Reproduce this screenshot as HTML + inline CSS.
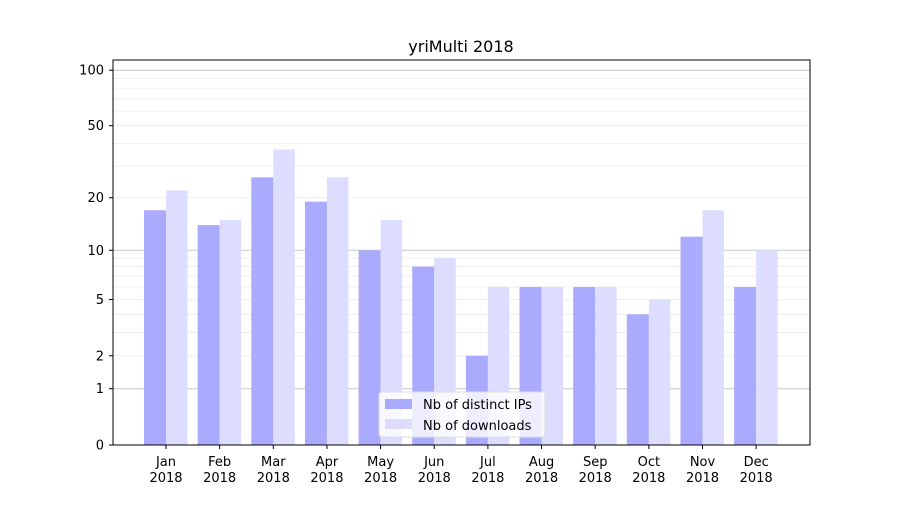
<!DOCTYPE html>
<html><head><meta charset="utf-8"><style>
html,body{margin:0;padding:0;background:#fff;}
svg text{font-family:"DejaVu Sans","Liberation Sans",sans-serif;}
</style></head><body>
<svg id="s" width="900" height="500" xmlns="http://www.w3.org/2000/svg"></svg>
<script>
var s=document.getElementById('s');
function Y(v){return 445-187*Math.log10(1+v);}
var h='<rect width="900" height="500" fill="#fff"/>';
var minor=[2,3,4,5,6,7,8,9,20,30,40,50,60,70,80,90];
minor.forEach(function(v){h+='<line x1="113" x2="810" y1="'+Y(v)+'" y2="'+Y(v)+'" stroke="#ececec" stroke-width="0.8"/>';});
[1,10,100].forEach(function(v){h+='<line x1="113" x2="810" y1="'+Y(v)+'" y2="'+Y(v)+'" stroke="#c8c8c8" stroke-width="1"/>';});
var m=['Jan','Feb','Mar','Apr','May','Jun','Jul','Aug','Sep','Oct','Nov','Dec'];
var a=[17,14,26,19,10,8,2,6,6,4,12,6], b=[22,15,37,26,15,9,6,6,6,5,17,10];
for(var i=0;i<12;i++){
 var c=166+53.65*i;
 h+='<rect x="'+(c-22)+'" y="'+Y(a[i])+'" width="22" height="'+(445-Y(a[i]))+'" fill="#aaaaff"/>';
 h+='<rect x="'+c+'" y="'+Y(b[i])+'" width="21.5" height="'+(445-Y(b[i]))+'" fill="#ddddff"/>';
 h+='<line x1="'+c+'" x2="'+c+'" y1="445" y2="449" stroke="#000"/>';
 h+='<text x="'+c+'" y="466" font-size="13" text-anchor="middle">'+m[i]+'</text>';
 h+='<text x="'+c+'" y="482" font-size="13" text-anchor="middle">2018</text>';
}
[0,1,2,5,10,20,50,100].forEach(function(v){var y=Y(v);
 h+='<line x1="109" x2="113" y1="'+y+'" y2="'+y+'" stroke="#000"/>';
 h+='<text x="104" y="'+(y+4.5)+'" font-size="13" text-anchor="end">'+v+'</text>';});
h+='<rect x="113" y="60" width="697" height="385" fill="none" stroke="#000" stroke-width="1"/>';
h+='<text x="461" y="52" font-size="16" text-anchor="middle">yriMulti 2018</text>';
h+='<rect x="379" y="392" width="166" height="45" rx="3" fill="#fff" fill-opacity="0.8" stroke="#ddd"/>';
h+='<rect x="385" y="399" width="27" height="10" fill="#aaaaff"/>';
h+='<text x="423" y="409" font-size="13">Nb of distinct IPs</text>';
h+='<rect x="385" y="419" width="27" height="10" fill="#ddddff"/>';
h+='<text x="423" y="430" font-size="13">Nb of downloads</text>';
s.innerHTML=h;
</script>
</body></html>
